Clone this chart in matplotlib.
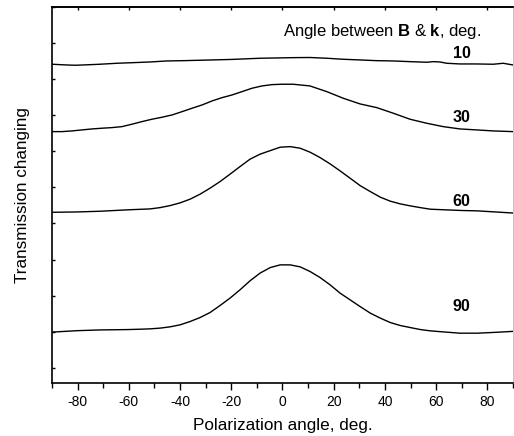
import matplotlib
matplotlib.use("Agg")
import matplotlib.pyplot as plt
from matplotlib.ticker import MultipleLocator, NullFormatter

plt.rcParams['font.family'] = ['Liberation Sans', 'DejaVu Sans']
plt.rcParams['axes.unicode_minus'] = False
plt.rcParams['mathtext.fontset'] = 'custom'
plt.rcParams['mathtext.rm'] = 'Liberation Sans'
plt.rcParams['mathtext.bf'] = 'Liberation Sans:bold'

# Polarization angle (deg) and transmission (arbitrary units, offset) for each B-k angle
x10 = [-90, -84.3, -81.0, -77.8, -71.3, -64.7, -58.3, -51.7, -45.2, -38.7, -32.2, -20,
       -8.8, -2.3, 4.2, 10.7, 17.3, 23.7, 30.3, 36.8, 43.3, 49.8, 56.3, 58.9, 61.5,
       64.1, 69.3, 75.8, 82.3, 86.2, 90]
y10 = [8.413, 8.393, 8.385, 8.393, 8.413, 8.440, 8.457, 8.476, 8.504, 8.512, 8.524,
       8.546, 8.579, 8.587, 8.596, 8.600, 8.579, 8.551, 8.532, 8.512, 8.504, 8.485,
       8.468, 8.485, 8.476, 8.440, 8.421, 8.421, 8.413, 8.440, 8.393]

x30 = [-90, -86.1, -82.2, -78.3, -74.4, -70.5, -66.6, -62.7, -58.8, -54.9, -51.0, -47.0,
       -43.1, -39.2, -35.3, -31.4, -27.5, -23.6, -19.7, -15.8, -11.9, -8.0, -4.1, -0.2,
       4.2, 10.7, 17.3, 23.7, 30.3, 36.8, 43.3, 49.8, 56.3, 62.8, 69.3, 75.8, 82.3, 90]
y30 = [6.546, 6.546, 6.565, 6.593, 6.620, 6.640, 6.657, 6.684, 6.751, 6.823, 6.889,
       6.945, 7.008, 7.100, 7.194, 7.285, 7.396, 7.488, 7.562, 7.654, 7.748, 7.812,
       7.848, 7.859, 7.859, 7.812, 7.654, 7.471, 7.313, 7.211, 7.055, 6.889, 6.778,
       6.684, 6.620, 6.593, 6.565, 6.546]

x60 = [-90, -80, -71, -60, -51.7, -47.8, -43.9, -40.0, -36.1, -32.2, -28.3, -24.4,
       -20.5, -16.6, -12.7, -8.8, -4.8, -0.9, 3.0, 6.9, 10.8, 14.7, 18.6, 22.5, 26.4,
       30.3, 34.3, 38.2, 42.1, 46.0, 49.9, 53.8, 57.7, 63, 70, 76, 83, 90]
y60 = [4.31, 4.32, 4.34, 4.38, 4.404, 4.440, 4.496, 4.571, 4.673, 4.812, 4.978, 5.161,
       5.366, 5.576, 5.781, 5.920, 6.019, 6.114, 6.130, 6.086, 5.975, 5.825, 5.651,
       5.457, 5.255, 5.050, 4.884, 4.729, 4.618, 4.543, 4.488, 4.440, 4.396, 4.38,
       4.36, 4.35, 4.32, 4.29]

x90 = [-90, -80, -71.3, -60.7, -55.6, -51.7, -47.8, -43.9, -40.0, -36.1, -32.2, -28.3,
       -24.4, -20.5, -16.6, -12.7, -8.8, -4.8, -0.9, 3.0, 6.9, 10.8, 14.7, 18.6, 22.5,
       26.4, 30.3, 34.3, 38.2, 42.1, 46.0, 49.9, 53.8, 57.7, 62, 69.3, 76, 82.2, 90]
y90 = [0.99, 1.03, 1.05, 1.06, 1.07, 1.080, 1.100, 1.136, 1.191, 1.283, 1.393, 1.532,
       1.726, 1.931, 2.161, 2.410, 2.623, 2.778, 2.853, 2.853, 2.798, 2.668, 2.501,
       2.299, 2.069, 1.884, 1.698, 1.515, 1.377, 1.255, 1.172, 1.116, 1.061, 1.025,
       1.00, 0.96, 0.96, 0.98, 1.01]

series = [(x10, y10, "10"), (x30, y30, "30"), (x60, y60, "60"), (x90, y90, "90")]
label_y = [8.72, 6.95, 4.60, 1.69]

x_ticks = [-80, -60, -40, -20, 0, 20, 40, 60, 80]

fig = plt.figure(figsize=(5.14, 4.36), dpi=100)
ax = fig.add_axes([0.1012, 0.1216, 0.8968, 0.8624])

for (xs, ys, lab), ly in zip(series, label_y):
    ax.plot(xs, ys, color='black', lw=1.0)
    ax.text(70, ly, lab, fontsize=11.5, fontweight='bold', ha='center', va='center')

ax.text(39.0, 9.31, r"Angle between $\mathbf{B}$ & $\mathbf{k}$, deg.", fontsize=12,
        ha='center', va='center')

ax.set_xlim(-90, 90)
ax.set_ylim(-0.42, 10.0)
ax.set_xticks(x_ticks)
ax.xaxis.set_minor_locator(MultipleLocator(10))
ax.tick_params(axis='x', which='major', direction='out', length=5, width=1,
               labelsize=10, pad=4, top=False)
ax.tick_params(axis='x', which='minor', direction='out', length=3.5, width=1, top=False)
ax.yaxis.set_major_locator(MultipleLocator(1))
ax.yaxis.set_major_formatter(NullFormatter())
ax.tick_params(axis='y', which='major', direction='in', length=2.5, width=1, right=False)

top = ax.secondary_xaxis('top')
top.set_xticks(x_ticks)
top.tick_params(direction='in', length=2, width=1, labeltop=False)
top.xaxis.set_major_formatter(NullFormatter())
top.spines['top'].set_linewidth(1.2)

for s in ax.spines.values():
    s.set_linewidth(1.2)
ax.spines['right'].set_linewidth(0.6)
ax.spines['right'].set_color('#bbbbbb')

ax.set_xlabel("Polarization angle, deg.", fontsize=12.3, labelpad=6)
ax.set_ylabel("Transmission changing", fontsize=12.3, labelpad=12)

fig.savefig("out.png", dpi=100)
